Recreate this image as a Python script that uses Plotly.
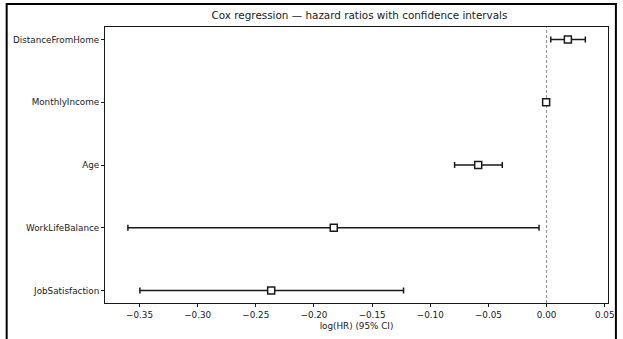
import plotly.graph_objects as go

# Cox model coefficients (log hazard ratio) with 95% confidence limits
covariates = ["JobSatisfaction", "WorkLifeBalance", "Age", "MonthlyIncome", "DistanceFromHome"]
log_hr = [-0.2368, -0.1830, -0.0588, -0.0004, 0.0183]
ci_lower = [-0.3497, -0.3600, -0.0791, -0.0006, 0.0036]
ci_upper = [-0.1230, -0.0065, -0.0381, -0.0002, 0.0333]

x_tick_values = [-0.35, -0.30, -0.25, -0.20, -0.15, -0.10, -0.05, 0.00, 0.05]
x_tick_labels = ["\u22120.35", "\u22120.30", "\u22120.25", "\u22120.20", "\u22120.15",
                 "\u22120.10", "\u22120.05", "0.00", "0.05"]

positions = list(range(len(covariates)))
err_plus = [u - c for u, c in zip(ci_upper, log_hr)]
err_minus = [c - l for c, l in zip(log_hr, ci_lower)]

FONT = "DejaVu Sans"
INK = "#1a1a1a"

fig = go.Figure()
fig.add_trace(go.Scatter(
    x=log_hr,
    y=positions,
    mode="markers",
    marker=dict(symbol="square", size=7, color="white",
                line=dict(color=INK, width=1.5)),
    error_x=dict(type="data", symmetric=False, array=err_plus, arrayminus=err_minus,
                 color=INK, thickness=1.5, width=3),
    hoverinfo="skip",
    showlegend=False,
))

# reference line at log(HR) = 0
fig.add_shape(type="line", xref="x", yref="paper", x0=0, x1=0, y0=0, y1=1,
              line=dict(color="#8c8c8c", width=1, dash="3px,2px"), layer="below")

# outer frame around the whole figure
L, R, T, B = 105, 9, 27, 35
W, H = 623, 339
pw, ph = W - L - R, H - T - B
def px_to_paper_x(px):
    return (px - L) / pw
def px_to_paper_y(py):
    return (H - B - py) / ph

fig.add_shape(type="rect", xref="paper", yref="paper",
              x0=px_to_paper_x(5.5), x1=px_to_paper_x(622),
              y0=px_to_paper_y(350), y1=px_to_paper_y(4),
              line=dict(color="black", width=2), fillcolor="rgba(0,0,0,0)")

fig.update_layout(
    width=W, height=H,
    margin=dict(l=L, r=R, t=T, b=B, pad=0),
    paper_bgcolor="white", plot_bgcolor="white",
    font=dict(family=FONT, size=8.8, color=INK),
    title=dict(text="Cox regression \u2014 hazard ratios with confidence intervals",
               x=(L + pw / 2) / W, xanchor="center",
               y=1 - 15 / H, yanchor="middle", yref="container",
               font=dict(family=FONT, size=10.4, color=INK)),
)

fig.update_xaxes(
    range=[-0.3797, 0.0528],
    tickvals=x_tick_values, ticktext=x_tick_labels,
    showgrid=False, zeroline=False,
    showline=True, mirror=True, linecolor=INK, linewidth=1,
    ticks="outside", ticklen=3, tickwidth=1, tickcolor=INK,
    title=dict(text="log(HR) (95% CI)", standoff=4, font=dict(size=8.8)),
)
fig.update_yaxes(
    range=[-0.2, 4.2],
    tickvals=positions, ticktext=covariates,
    showgrid=False, zeroline=False,
    showline=True, mirror=True, linecolor=INK, linewidth=1,
    ticks="outside", ticklen=3, tickwidth=1, tickcolor=INK,
)

fig.write_html("out.html")
